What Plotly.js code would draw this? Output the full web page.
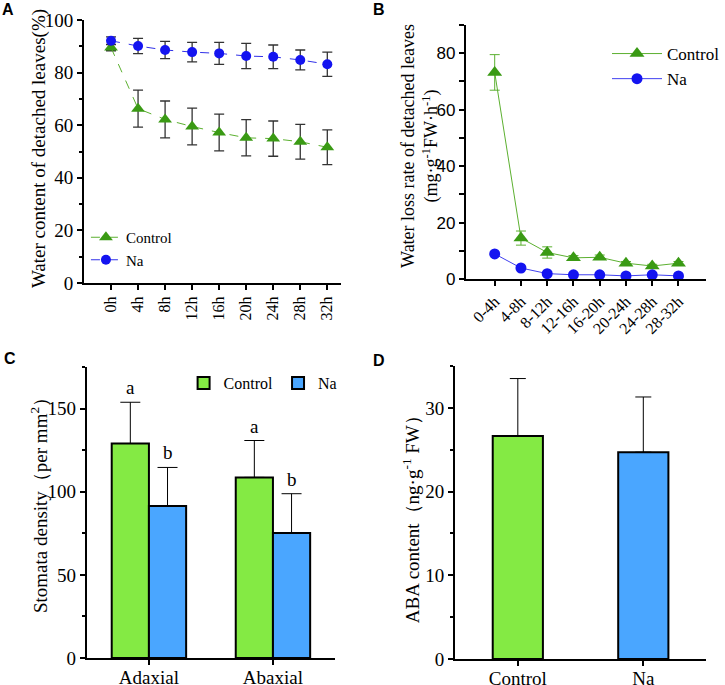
<!DOCTYPE html>
<html>
<head>
<meta charset="utf-8">
<script src="https://cdn.plot.ly/plotly-3.0.1.min.js"></script>
<style>html,body{margin:0;padding:0;background:#fff;}#chart{width:725px;height:685px;}</style>
</head>
<body>
<div id="chart"></div>
<script>
// ---- Panel A: water content of detached leaves (%) ----
const timeA = ['0h','4h','8h','12h','16h','20h','24h','28h','32h'];
const ctrlA = [89.5, 66.3, 62.2, 59.5, 57.2, 55.2, 54.9, 53.7, 51.6];
const ctrlAErr = [1.2, 7.0, 7.0, 7.0, 7.0, 6.9, 6.7, 6.6, 6.6];
const naA = [92.1, 90.1, 88.6, 87.8, 87.3, 86.3, 86.0, 84.8, 83.2];
const naAErr = [1.5, 2.9, 3.3, 3.7, 4.2, 4.8, 4.5, 3.8, 4.6];

// ---- Panel B: water loss rate ----
const timeB = ['0-4h','4-8h','8-12h','12-16h','16-20h','20-24h','24-28h','28-32h'];
const ctrlB = [73.2, 14.5, 9.4, 7.5, 7.7, 5.6, 4.6, 5.6];
const ctrlBErr = [6.3, 2.5, 2.0, 0.8, 0.8, 0.6, 0.6, 0.6];
const naB = [8.9, 3.9, 1.9, 1.5, 1.5, 1.1, 1.5, 1.1];
const naBErr = [0.6, 0.5, 0.3, 0.3, 0.3, 0.2, 0.3, 0.2];

// ---- Panel C: stomata density ----
const sideC = ['Adaxial', 'Abaxial'];
const ctrlC = [129.0, 108.6];
const ctrlCErr = [24.8, 22.2];
const naC = [91.4, 75.2];
const naCErr = [23.2, 23.6];
const ctrlCLetters = ['a', 'a'];
const naCLetters = ['b', 'b'];

// ---- Panel D: ABA content ----
const groupD = ['Control', 'Na'];
const abaD = [26.65, 24.7];
const abaDErr = [6.85, 6.6];

// ---- axis titles ----
const titleA = 'Water content of detached leaves(%)';
const titleB = 'Water loss rate of detached leaves<br>(mg·g<sup>-1</sup>FW·h<sup>-1</sup>)';
const titleC = 'Stomata density（per mm<sup>2</sup>）';
const titleD = 'ABA content（ng·g<sup>-1</sup> FW）';

const SERIF = 'Liberation Serif';
const SANS = 'Liberation Sans';
const GREEN = '#3a9a14';
const BLUE = '#1414f0';
const BAR_GREEN = '#84ea44';
const BAR_BLUE = '#4aa6ff';

const W = 725, H = 685;
const dx = (a, b) => [a / W, b / W];
const dy = (top, bottom) => [1 - bottom / H, 1 - top / H];

const traces = [
  {x: timeA, y: ctrlA, name: 'Control', type: 'scatter', mode: 'lines+markers',
   xaxis: 'x', yaxis: 'y', legend: 'legend',
   line: {color: '#5cb030', width: 1, dash: 'dash'},
   marker: {symbol: 'triangle-up', size: 12, color: GREEN},
   error_y: {type: 'data', array: ctrlAErr, visible: true, color: '#333', thickness: 1.3, width: 5}},
  {x: timeA, y: naA, name: 'Na', type: 'scatter', mode: 'lines+markers',
   xaxis: 'x', yaxis: 'y', legend: 'legend',
   line: {color: '#3030e8', width: 1, dash: 'dash'},
   marker: {symbol: 'circle', size: 10, color: BLUE},
   error_y: {type: 'data', array: naAErr, visible: true, color: '#333', thickness: 1.3, width: 5}},

  {x: timeB, y: ctrlB, name: 'Control', type: 'scatter', mode: 'lines+markers',
   xaxis: 'x2', yaxis: 'y2', legend: 'legend2',
   line: {color: '#5cb030', width: 1},
   marker: {symbol: 'triangle-up', size: 13, color: GREEN},
   error_y: {type: 'data', array: ctrlBErr, visible: true, color: '#5cb030', thickness: 1, width: 5}},
  {x: timeB, y: naB, name: 'Na', type: 'scatter', mode: 'lines+markers',
   xaxis: 'x2', yaxis: 'y2', legend: 'legend2',
   line: {color: '#4040f0', width: 1},
   marker: {symbol: 'circle', size: 11, color: BLUE},
   error_y: {type: 'data', array: naBErr, visible: true, color: '#4040f0', thickness: 1, width: 4}},

  {x: sideC, y: ctrlC, name: 'Control', type: 'bar', xaxis: 'x3', yaxis: 'y3', legend: 'legend3',
   marker: {color: BAR_GREEN, line: {color: '#000', width: 2}},
   error_y: {type: 'data', symmetric: false, array: ctrlCErr, arrayminus: [0, 0], visible: true, color: '#000', thickness: 1, width: 10}},
  {x: sideC, y: naC, name: 'Na', type: 'bar', xaxis: 'x3', yaxis: 'y3', legend: 'legend3',
   marker: {color: BAR_BLUE, line: {color: '#000', width: 2}},
   error_y: {type: 'data', symmetric: false, array: naCErr, arrayminus: [0, 0], visible: true, color: '#000', thickness: 1, width: 10}},

  {x: groupD, y: abaD, type: 'bar', xaxis: 'x4', yaxis: 'y4', showlegend: false, width: 0.4,
   marker: {color: [BAR_GREEN, BAR_BLUE], line: {color: '#000', width: 2}},
   error_y: {type: 'data', symmetric: false, array: abaDErr, arrayminus: [0, 0], visible: true, color: '#000', thickness: 1, width: 8}}
];

const axBase = {
  showline: true, linecolor: '#000', linewidth: 2, ticks: 'outside', ticklen: 5, tickwidth: 2,
  tickcolor: '#000', showgrid: false, zeroline: false, fixedrange: true
};

const annotations = [];
// significance letters for panel C
sideC.forEach((s, i) => {
  annotations.push({xref: 'x3', yref: 'y3', x: i - 0.15, y: ctrlC[i] + ctrlCErr[i], text: ctrlCLetters[i],
    showarrow: false, yanchor: 'bottom', yshift: 2, font: {family: SERIF, size: 19, color: '#000'}});
  annotations.push({xref: 'x3', yref: 'y3', x: i + 0.15, y: naC[i] + naCErr[i], text: naCLetters[i],
    showarrow: false, yanchor: 'bottom', yshift: 2, font: {family: SERIF, size: 19, color: '#000'}});
});
// panel letters
[['A', 8, 10], ['B', 388, 9], ['C', 10, 358], ['D', 388, 360]].forEach(p => {
  annotations.push({xref: 'paper', yref: 'paper', x: p[1] / W, y: 1 - p[2] / H, text: '<b>' + p[0] + '</b>',
    showarrow: false, xanchor: 'center', yanchor: 'middle', font: {family: SANS, size: 16, color: '#000'}});
});
// rotated y-axis titles
[[titleA, 40, 149, 19], [titleB, 430, 146, 18],
 [titleC, 40, 501, 19], [titleD, 421, 515, 19]].forEach(t => {
  annotations.push({xref: 'paper', yref: 'paper', x: t[1] / W, y: 1 - t[2] / H, text: t[0], textangle: -90,
    showarrow: false, xanchor: 'center', yanchor: 'middle', font: {family: SERIF, size: t[3], color: '#000'}});
});

const layout = {
  width: W, height: H, margin: {l: 0, r: 0, t: 0, b: 0},
  paper_bgcolor: '#fff', plot_bgcolor: '#fff',
  font: {family: SERIF, color: '#000'},
  barmode: 'group', bargap: 0.4, bargroupgap: 0,
  annotations: annotations,
  xaxis: Object.assign({}, axBase, {domain: dx(86, 349), anchor: 'y', type: 'category', range: [-1, 8.5],
    tickangle: -90, tickfont: {family: SERIF, size: 16}}),
  yaxis: Object.assign({}, axBase, {domain: dy(20, 283), anchor: 'x', range: [0, 100], dtick: 20,
    tickfont: {family: SERIF, size: 19},
    minor: {ticks: 'outside', ticklen: 3, tickwidth: 2, tickcolor: '#000', dtick: 10}}),
  xaxis2: Object.assign({}, axBase, {domain: dx(477, 723), anchor: 'y2', type: 'category', range: [-1.1, 8.05],
    tickangle: -45, tickfont: {family: SERIF, size: 16}}),
  yaxis2: Object.assign({}, axBase, {domain: dy(25, 279), anchor: 'x2', range: [0, 90], dtick: 20,
    tickfont: {family: SANS, size: 17},
    minor: {ticks: 'outside', ticklen: 5, tickwidth: 2, tickcolor: '#000', dtick: 10}}),
  xaxis3: Object.assign({}, axBase, {domain: dx(89, 343), anchor: 'y3', type: 'category', range: [-0.5, 1.5],
    tickfont: {family: SERIF, size: 19}, ticklabelstandoff: -4}),
  yaxis3: Object.assign({}, axBase, {domain: dy(367, 658), anchor: 'x3', range: [0, 175], dtick: 50,
    tickfont: {family: SERIF, size: 19},
    minor: {ticks: 'outside', ticklen: 3, tickwidth: 2, tickcolor: '#000', dtick: 25}}),
  xaxis4: Object.assign({}, axBase, {domain: dx(466, 723), anchor: 'y4', type: 'category', range: [-0.5, 1.5],
    tickfont: {family: SERIF, size: 19}, ticklabelstandoff: -4}),
  yaxis4: Object.assign({}, axBase, {domain: dy(366, 659), anchor: 'x4', range: [0, 35], dtick: 10,
    tickfont: {family: SERIF, size: 19},
    minor: {ticks: 'outside', ticklen: 3, tickwidth: 2, tickcolor: '#000', dtick: 5}}),
  legend: {x: 88 / W, y: 1 - 221 / H, xanchor: 'left', yanchor: 'top', bgcolor: 'rgba(0,0,0,0)',
    font: {family: SERIF, size: 15}, tracegroupgap: 0, itemclick: false},
  legend2: {x: 622 / W, y: 1 - 36 / H, xanchor: 'left', yanchor: 'top', bgcolor: 'rgba(0,0,0,0)',
    font: {family: SERIF, size: 17}, itemwidth: 50, itemclick: false},
  legend3: {x: 188 / W, y: 1 - 366 / H, xanchor: 'left', yanchor: 'top', orientation: 'h', bgcolor: 'rgba(0,0,0,0)',
    font: {family: SERIF, size: 16}, itemclick: false}
};

Plotly.newPlot('chart', traces, layout, {displayModeBar: false, staticPlot: true});
</script>
</body>
</html>
